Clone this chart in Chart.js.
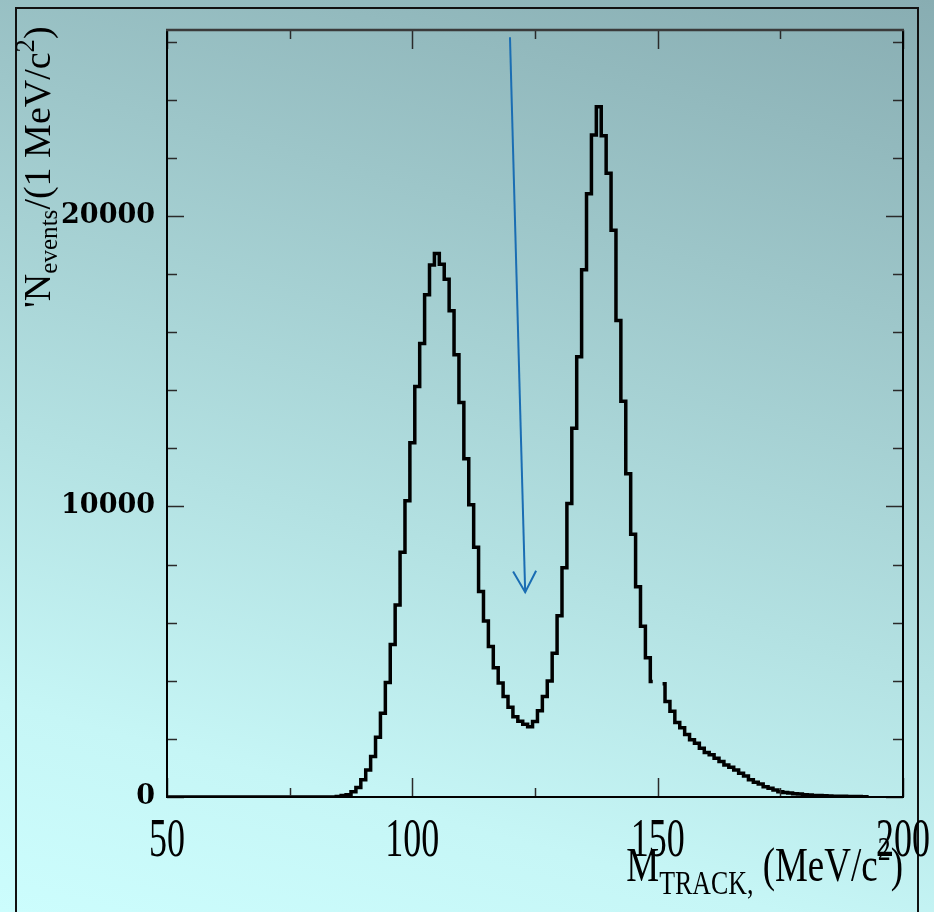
<!DOCTYPE html>
<html>
<head>
<meta charset="utf-8">
<script src="https://cdn.jsdelivr.net/npm/chart.js@4.4.1/dist/chart.umd.min.js"></script>
<style>
  html, body { margin: 0; padding: 0; }
  #page {
    position: relative; width: 934px; height: 912px; overflow: hidden;
    background: linear-gradient(195deg, #88adb2 0%, #9dc6c9 28%, #b3e1e2 58%, #c6f6f6 82%, #ccfdfd 100%);
  }
  #frame { position: absolute; left: 15px; top: 7px; width: 900px; height: 960px; border: 2px solid #111; }
  #plot { position: absolute; left: 0; top: 0; }
  .axis-title {
    position: absolute; color: #000; white-space: nowrap; line-height: 1;
    font-family: "Liberation Serif", "Times New Roman", serif;
  }
  #yTitle { left: 0; top: 0; font-size: 38px; transform-origin: 0 0; transform: translate(18px, 308px) rotate(-90deg); }
  #xTitle { right: 31px; top: 850px; font-size: 37px; transform-origin: 50% 31px; transform: scaleY(1.3); }
  .lo { font-size: 0.7em; position: relative; top: 0.38em; }
  #yTitle .lo { font-size: 0.66em; top: 0.26em; }
  .hi { font-size: 0.7em; position: relative; top: -0.6em; }
</style>
</head>
<body>
<div id="page">
  <div id="frame"></div>
  <canvas id="plot" width="934" height="912"></canvas>
  <div class="axis-title" id="yTitle">'N<span class="lo">events</span>/(1 MeV/c<span class="hi">2</span>)</div>
  <div class="axis-title" id="xTitle">M<span class="lo">TRACK,</span> (MeV/c<span class="hi">2</span>)</div>
</div>
<script>
// 1 MeV bins, first bin centred at 50 MeV
const binStart = 50;
const counts = [
    0, 0, 0, 0, 0, 0, 0, 0, 0, 0,                                   // 50-59
    0, 0, 0, 0, 0, 0, 0, 0, 0, 0,                                   // 60-69
    0, 0, 0, 0, 0, 0, 0, 0, 0, 0,                                   // 70-79
    0, 0, 0, 0, 0, 20, 55, 75, 185, 330,                            // 80-89
    590, 930, 1390, 2060, 2880, 3940, 5250, 6610, 8420, 10200,      // 90-99
    12190, 14130, 15610, 17290, 18310, 18710, 18340, 17820, 16740, 15220, // 100-109
    13580, 11640, 10060, 8600, 7070, 6060, 5180, 4450, 3920, 3460,  // 110-119
    3090, 2760, 2610, 2500, 2420, 2600, 2970, 3460, 3990, 4950,     // 120-129
    6240, 7890, 10100, 12690, 15150, 18150, 20760, 22790, 23760, 22760, // 130-139
    21470, 19510, 16400, 13620, 11130, 9040, 7240, 5880, 4790, 3975, // 140-149
    null, 3900, 3290, 2950, 2560, 2380, 2150, 1970, 1850, 1680,     // 150-159
    1530, 1450, 1330, 1220, 1100, 1020, 930, 815, 720, 590,         // 160-169
    505, 447, 356, 298, 241, 183, 155, 140, 110, 100,               // 170-179
    75, 65, 55, 48, 42, 35, 30, 27, 24, 20,                         // 180-189
    18, 15, 12, 10                                                  // 190-193
];
const xTicks = [50, 75, 100, 125, 150, 175, 200];
const xMajor = [50, 100, 150, 200];
const yTicks = [0, 2000, 4000, 6000, 8000, 10000, 12000, 14000, 16000, 18000, 20000, 22000, 24000, 26000];
const yMajor = [0, 10000, 20000];
// arrow annotation (MeV, events)
const arrowFrom = [119.9, 26150];
const arrowTo = [123.0, 7050];

const points = counts.map((c, i) => ({ x: binStart + i, y: c }));

function line(ctx, x1, y1, x2, y2) {
    ctx.beginPath();
    ctx.moveTo(x1, y1);
    ctx.lineTo(x2, y2);
    ctx.stroke();
}

const decorations = {
    id: 'decorations',
    afterDatasetsDraw(chart) {
        const ctx = chart.ctx;
        const a = chart.chartArea;
        const xs = chart.scales.x;
        const ys = chart.scales.y;
        ctx.save();

        // inward ticks on all four sides
        ctx.strokeStyle = '#2a2a2a';
        ctx.lineWidth = 1.5;
        xs.ticks.forEach(t => {
            const px = Math.round(xs.getPixelForValue(t.value)) + 0.5;
            const len = xMajor.includes(t.value) ? 19 : 9;
            line(ctx, px, a.bottom, px, a.bottom - len);
            line(ctx, px, a.top, px, a.top + len);
        });
        ys.ticks.forEach(t => {
            const py = Math.round(ys.getPixelForValue(t.value)) + 0.5;
            const len = yMajor.includes(t.value) ? 17 : 10;
            line(ctx, a.left, py, a.left + len, py);
            line(ctx, a.right, py, a.right - len, py);
        });

        // plot frame
        ctx.strokeStyle = '#000';
        ctx.lineWidth = 2;
        line(ctx, a.left, a.top, a.left, a.bottom + 1);
        line(ctx, a.right, a.top, a.right, a.bottom + 1);
        line(ctx, a.left - 1, a.bottom, a.right + 1, a.bottom);
        ctx.strokeStyle = '#3a3a3a';
        ctx.lineWidth = 2.5;
        line(ctx, a.left - 1, a.top, a.right + 1, a.top);

        // x tick labels (tall serif digits)
        ctx.fillStyle = '#000';
        ctx.font = '36px "Liberation Serif", serif';
        ctx.textAlign = 'center';
        ctx.textBaseline = 'alphabetic';
        xMajor.forEach(v => {
            ctx.save();
            ctx.translate(xs.getPixelForValue(v), a.bottom + 59);
            ctx.scale(1, 1.5);
            ctx.fillText(String(v), 0, 0);
            ctx.restore();
        });

        // blue arrow
        const x1 = xs.getPixelForValue(arrowFrom[0]);
        const y1 = ys.getPixelForValue(arrowFrom[1]);
        const x2 = xs.getPixelForValue(arrowTo[0]);
        const y2 = ys.getPixelForValue(arrowTo[1]);
        const ang = Math.atan2(y2 - y1, x2 - x1);
        const head = 24, spread = 0.5;
        ctx.strokeStyle = '#1a6db3';
        ctx.lineWidth = 2;
        line(ctx, x1, y1, x2, y2);
        ctx.beginPath();
        ctx.moveTo(x2 - head * Math.cos(ang - spread), y2 - head * Math.sin(ang - spread));
        ctx.lineTo(x2, y2);
        ctx.lineTo(x2 - head * Math.cos(ang + spread), y2 - head * Math.sin(ang + spread));
        ctx.stroke();

        ctx.restore();
    }
};

new Chart(document.getElementById('plot'), {
    type: 'line',
    data: {
        datasets: [{
            data: points,
            borderColor: '#000',
            borderWidth: 3.5,
            borderJoinStyle: 'miter',
            pointRadius: 0,
            stepped: 'middle',
            spanGaps: false,
            fill: false
        }]
    },
    options: {
        responsive: false,
        devicePixelRatio: 1,
        animation: false,
        layout: { padding: { left: 0, right: 31, top: 30, bottom: 115 } },
        plugins: {
            legend: { display: false },
            tooltip: { enabled: false }
        },
        scales: {
            x: {
                type: 'linear',
                min: 50,
                max: 200,
                grid: { display: false },
                border: { display: false },
                afterFit: scale => { scale.height = 0; },
                afterBuildTicks: scale => { scale.ticks = xTicks.map(v => ({ value: v })); },
                ticks: { display: false }
            },
            y: {
                min: 0,
                max: 26400,
                grid: { display: false, drawTicks: false },
                border: { display: false },
                afterFit: scale => { scale.width = 167; },
                afterBuildTicks: scale => { scale.ticks = yTicks.map(v => ({ value: v })); },
                ticks: {
                    autoSkip: false,
                    padding: 12,
                    color: '#000',
                    font: { family: '"DejaVu Serif", serif', size: 27, weight: 'bold' },
                    callback: v => (yMajor.includes(v) ? String(v) : '')
                }
            }
        }
    },
    plugins: [decorations]
});
</script>
</body>
</html>
